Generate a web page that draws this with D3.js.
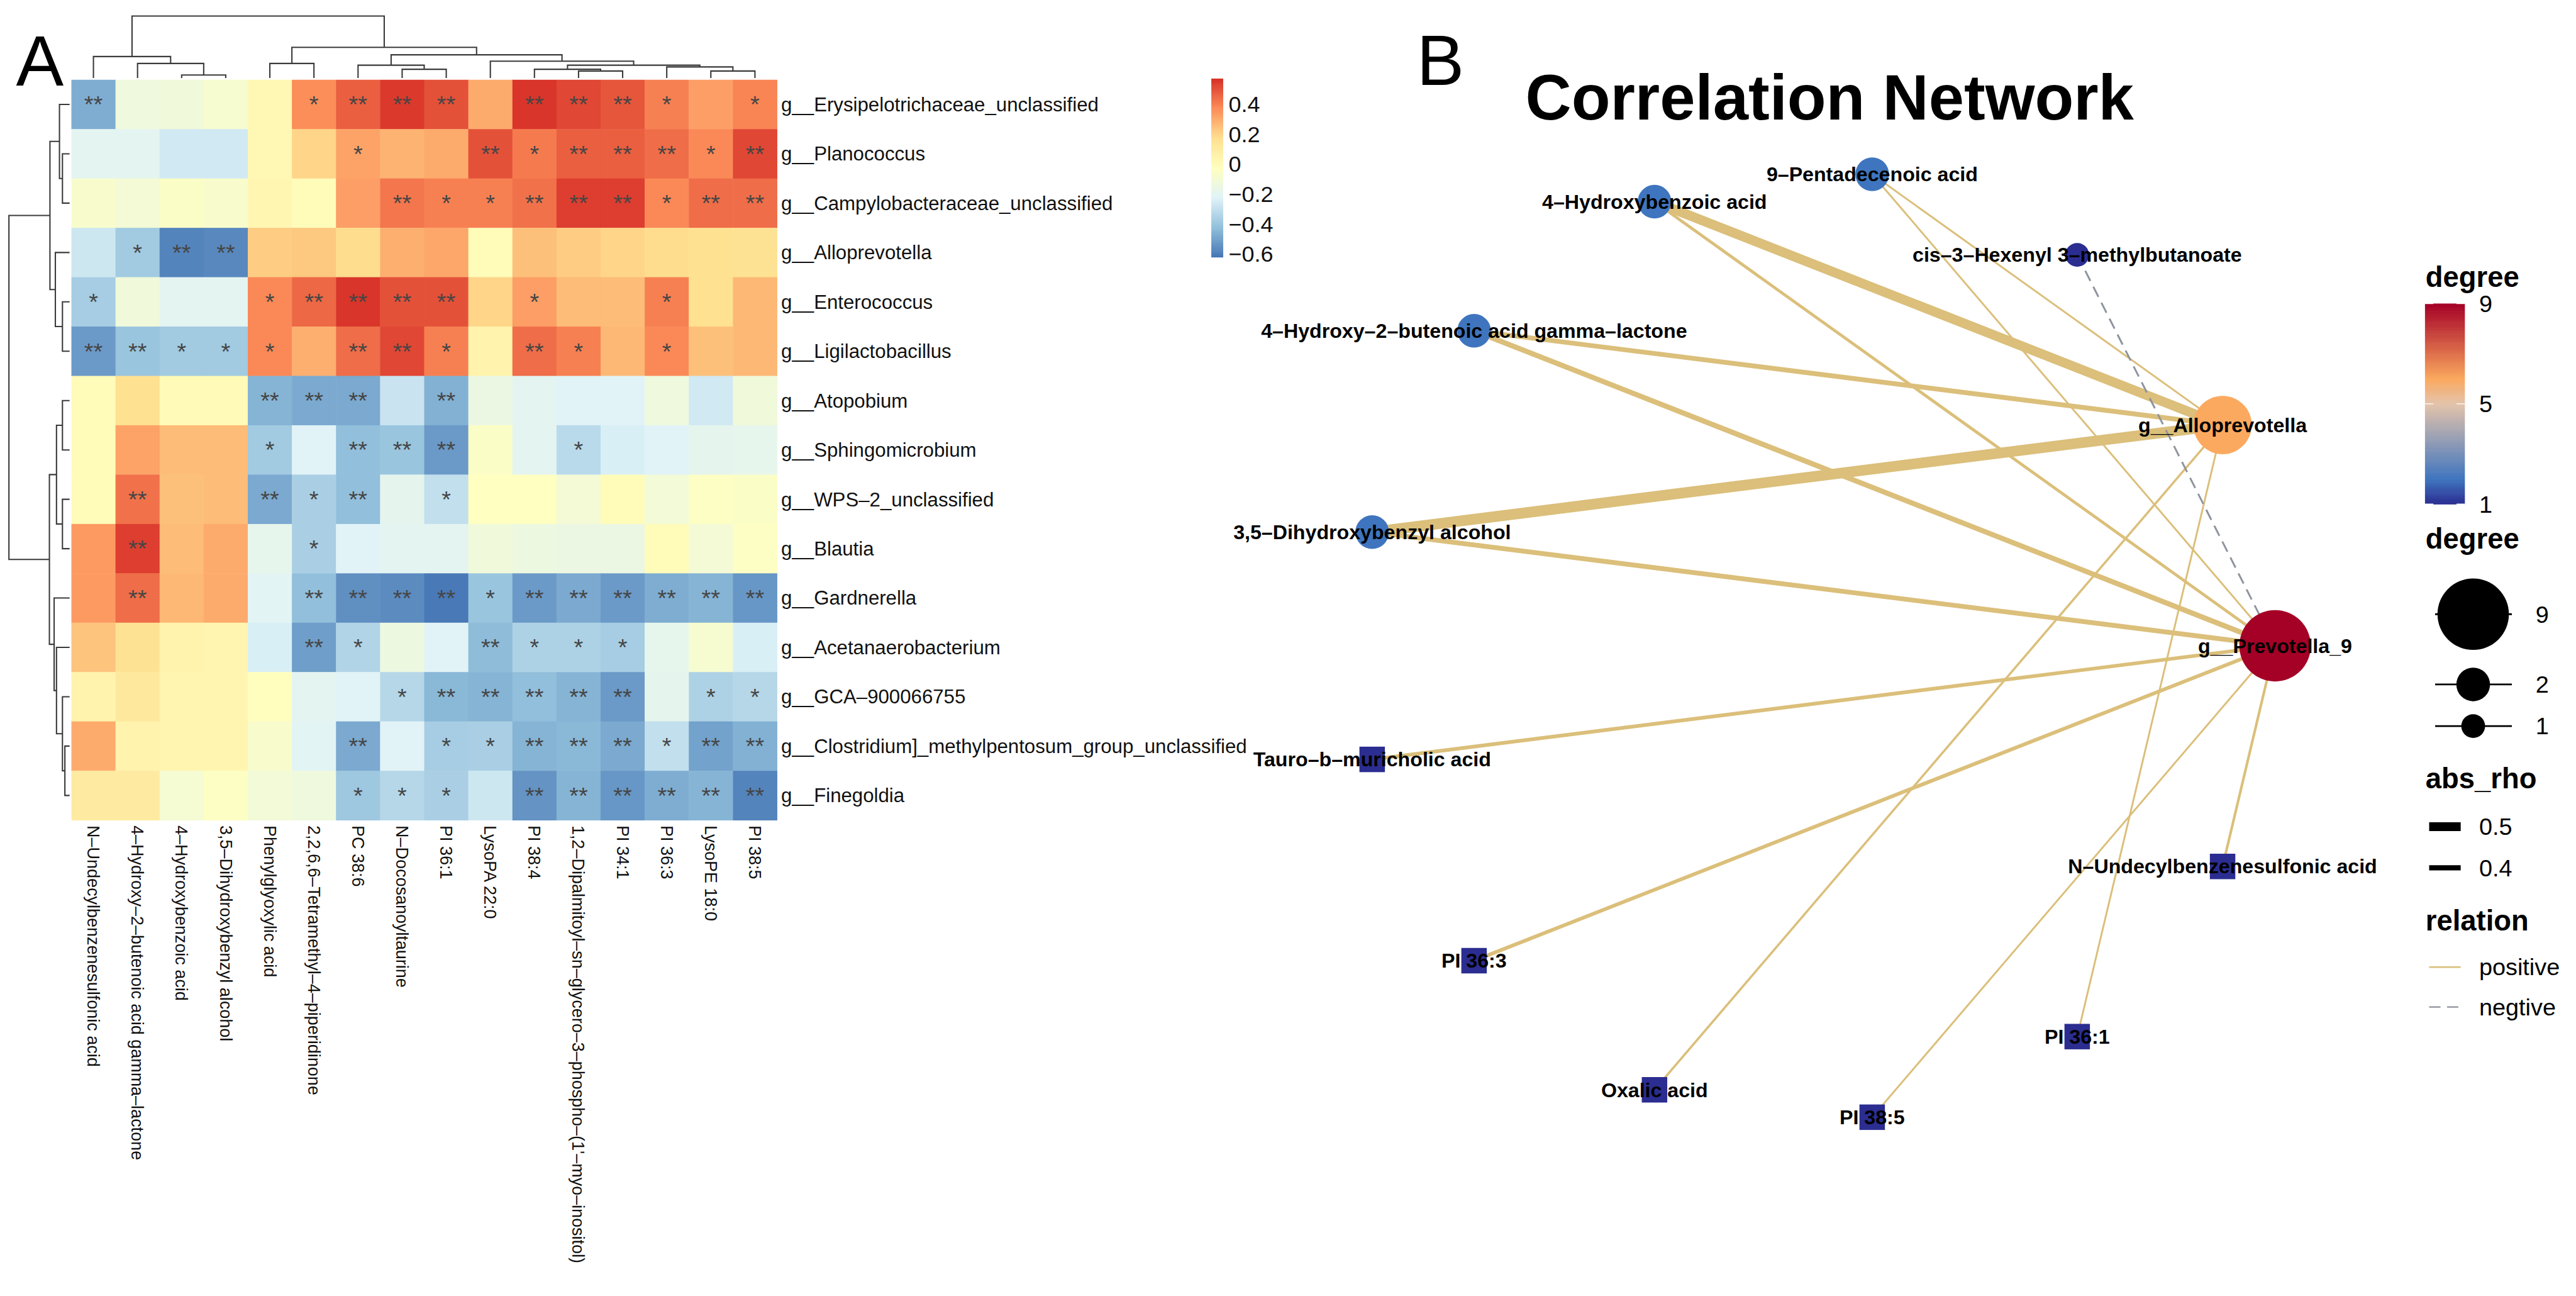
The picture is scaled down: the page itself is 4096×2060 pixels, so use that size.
<!DOCTYPE html>
<html>
<head>
<meta charset="utf-8">
<script src="https://cdn.jsdelivr.net/npm/d3@7"></script>
<style>
  body { margin: 0; background: #fff; }
  svg { display: block; }
  text { font-family: "Liberation Sans", Arial, Helvetica, sans-serif; }
</style>
</head>
<body>
<div id="chart"></div>
<script>
// ---------- panel A: correlation heatmap ----------
const rowNames = [
  "g__Erysipelotrichaceae_unclassified", "g__Planococcus", "g__Campylobacteraceae_unclassified",
  "g__Alloprevotella", "g__Enterococcus", "g__Ligilactobacillus", "g__Atopobium",
  "g__Sphingomicrobium", "g__WPS–2_unclassified", "g__Blautia", "g__Gardnerella",
  "g__Acetanaerobacterium", "g__GCA–900066755", "g__Clostridium]_methylpentosum_group_unclassified",
  "g__Finegoldia"
]
const colNames = [
  "N–Undecylbenzenesulfonic acid", "4–Hydroxy–2–butenoic acid gamma–lactone", "4–Hydroxybenzoic acid",
  "3,5–Dihydroxybenzyl alcohol", "Phenylglyoxylic acid", "2,2,6,6–Tetramethyl–4–piperidinone",
  "PC 38:6", "N–Docosanoyltaurine", "PI 36:1", "LysoPA 22:0", "PI 38:4",
  "1,2–Dipalmitoyl–sn–glycero–3–phospho–(1'–myo–inositol)", "PI 34:1", "PI 36:3", "LysoPE 18:0", "PI 38:5"
]
const rhoValues = [
  [-0.47, -0.13, -0.12, -0.08, 0.02, 0.37, 0.47, 0.55, 0.50, 0.30, 0.56, 0.52, 0.49, 0.40, 0.33, 0.39],
  [-0.20, -0.20, -0.26, -0.26, 0.02, 0.20, 0.32, 0.28, 0.30, 0.50, 0.41, 0.47, 0.47, 0.44, 0.38, 0.52],
  [-0.07, -0.10, -0.05, -0.07, 0.03, 0.00, 0.33, 0.42, 0.40, 0.40, 0.43, 0.54, 0.54, 0.38, 0.44, 0.44],
  [-0.27, -0.38, -0.58, -0.57, 0.22, 0.23, 0.18, 0.29, 0.31, 0.00, 0.25, 0.22, 0.20, 0.18, 0.17, 0.16],
  [-0.37, -0.12, -0.20, -0.20, 0.38, 0.45, 0.56, 0.50, 0.50, 0.20, 0.33, 0.26, 0.26, 0.40, 0.17, 0.27],
  [-0.52, -0.40, -0.38, -0.38, 0.38, 0.29, 0.44, 0.52, 0.40, 0.05, 0.44, 0.40, 0.27, 0.38, 0.25, 0.27],
  [0.00, 0.17, 0.01, 0.01, -0.45, -0.48, -0.48, -0.28, -0.46, -0.15, -0.20, -0.22, -0.22, -0.13, -0.26, -0.12],
  [0.00, 0.32, 0.26, 0.26, -0.38, -0.22, -0.42, -0.40, -0.52, -0.05, -0.20, -0.32, -0.24, -0.22, -0.19, -0.18],
  [0.00, 0.43, 0.25, 0.26, -0.48, -0.36, -0.42, -0.19, -0.30, -0.03, -0.03, -0.10, 0.00, -0.11, -0.04, -0.05],
  [0.34, 0.54, 0.26, 0.30, -0.18, -0.36, -0.22, -0.20, -0.20, -0.12, -0.14, -0.15, -0.15, 0.00, -0.10, -0.04],
  [0.34, 0.44, 0.27, 0.30, -0.21, -0.42, -0.55, -0.56, -0.61, -0.40, -0.52, -0.48, -0.52, -0.47, -0.45, -0.53],
  [0.24, 0.16, 0.05, 0.04, -0.24, -0.51, -0.34, -0.14, -0.22, -0.43, -0.35, -0.35, -0.37, -0.18, -0.08, -0.24],
  [0.05, 0.12, 0.04, 0.04, -0.02, -0.20, -0.22, -0.33, -0.44, -0.45, -0.42, -0.45, -0.52, -0.19, -0.35, -0.33],
  [0.30, 0.05, 0.04, 0.04, -0.07, -0.21, -0.48, -0.22, -0.37, -0.36, -0.45, -0.44, -0.48, -0.30, -0.50, -0.46],
  [0.10, 0.10, -0.09, -0.04, -0.11, -0.13, -0.39, -0.33, -0.36, -0.27, -0.54, -0.45, -0.53, -0.47, -0.45, -0.58]
]
const sigMarks = [
  ["**", "", "", "", "", "*", "**", "**", "**", "", "**", "**", "**", "*", "", "*"],
  ["", "", "", "", "", "", "*", "", "", "**", "*", "**", "**", "**", "*", "**"],
  ["", "", "", "", "", "", "", "**", "*", "*", "**", "**", "**", "*", "**", "**"],
  ["", "*", "**", "**", "", "", "", "", "", "", "", "", "", "", "", ""],
  ["*", "", "", "", "*", "**", "**", "**", "**", "", "*", "", "", "*", "", ""],
  ["**", "**", "*", "*", "*", "", "**", "**", "*", "", "**", "*", "", "*", "", ""],
  ["", "", "", "", "**", "**", "**", "", "**", "", "", "", "", "", "", ""],
  ["", "", "", "", "*", "", "**", "**", "**", "", "", "*", "", "", "", ""],
  ["", "**", "", "", "**", "*", "**", "", "*", "", "", "", "", "", "", ""],
  ["", "**", "", "", "", "*", "", "", "", "", "", "", "", "", "", ""],
  ["", "**", "", "", "", "**", "**", "**", "**", "*", "**", "**", "**", "**", "**", "**"],
  ["", "", "", "", "", "**", "*", "", "", "**", "*", "*", "*", "", "", ""],
  ["", "", "", "", "", "", "", "*", "**", "**", "**", "**", "**", "", "*", "*"],
  ["", "", "", "", "", "", "**", "", "*", "*", "**", "**", "**", "*", "**", "**"],
  ["", "", "", "", "", "", "*", "*", "*", "", "**", "**", "**", "**", "**", "**"]
]
// dendrograms: [mergeHeight, left, right], leaves are indices
const colTree = [1.0,
  [0.346, 0, [0.234, 1, [0.047, 2, 3]]],
  [0.495, [0.234, 4, 5],
    [0.374, [0.206, 6, [0.140, 7, 8]],
      [0.271, 9, [0.206, [0.140, 10, [0.112, 11, 12]], [0.178, 13, [0.112, 14, 15]]]]]]]
const rowTree = [1.0,
  [0.324, [0.167, 0, [0.118, 1, 2]], [0.235, 3, [0.118, 4, 5]]],
  [0.333, [0.216, [0.118, 6, 7], [0.118, 8, 9]],
    [0.255, 10, [0.216, 11, [0.118, 12, [0.078, 13, 14]]]]]]
const rhoRange = [-0.62, 0.57]
const rhoTicks = [0.4, 0.2, 0, -0.2, -0.4, -0.6]
const heatPalette = ["#4575b4", "#91bfdb", "#e0f3f8", "#ffffbf", "#fee090", "#fc8d59", "#d73027"]

// ---------- panel B: correlation network (circle layout order) ----------
const nodeNames = [
  "g__Prevotella_9", "g__Alloprevotella", "cis–3–Hexenyl 3–methylbutanoate", "9–Pentadecenoic acid",
  "4–Hydroxybenzoic acid", "4–Hydroxy–2–butenoic acid gamma–lactone", "3,5–Dihydroxybenzyl alcohol",
  "Tauro–b–muricholic acid", "PI 36:3", "Oxalic acid", "PI 38:5", "PI 36:1", "N–Undecylbenzenesulfonic acid"
]
const nodeShapes = ["circle", "circle", "circle", "circle", "circle", "circle", "circle",
  "square", "square", "square", "square", "square", "square"]
const edgeFrom = [
  "4–Hydroxybenzoic acid", "3,5–Dihydroxybenzyl alcohol", "4–Hydroxy–2–butenoic acid gamma–lactone",
  "9–Pentadecenoic acid", "Oxalic acid", "PI 36:1",
  "4–Hydroxybenzoic acid", "9–Pentadecenoic acid", "4–Hydroxy–2–butenoic acid gamma–lactone",
  "3,5–Dihydroxybenzyl alcohol", "Tauro–b–muricholic acid", "PI 36:3", "PI 38:5",
  "N–Undecylbenzenesulfonic acid", "cis–3–Hexenyl 3–methylbutanoate"
]
const edgeTo = [
  "g__Alloprevotella", "g__Alloprevotella", "g__Alloprevotella", "g__Alloprevotella", "g__Alloprevotella",
  "g__Alloprevotella", "g__Prevotella_9", "g__Prevotella_9", "g__Prevotella_9", "g__Prevotella_9",
  "g__Prevotella_9", "g__Prevotella_9", "g__Prevotella_9", "g__Prevotella_9", "g__Prevotella_9"
]
const edgeRho = [0.52, 0.55, 0.39, 0.31, 0.32, 0.31, 0.34, 0.31, 0.40, 0.39, 0.36, 0.36, 0.31, 0.33, 0.31]
const edgeRelation = ["positive", "positive", "positive", "positive", "positive", "positive", "positive",
  "positive", "positive", "positive", "positive", "positive", "positive", "positive", "negtive"]
const degreeTicks = [9, 5, 1]
const sizeTicks = [9, 2, 1]
const rhoLegendTicks = [0.5, 0.4]
const relationLevels = ["positive", "negtive"]

// ---------- setup ----------
const W = 4096, H = 2060, K = 0.946
const FONT_BOLD = "bold"
const svg = d3.select("#chart").append("svg").attr("width", W).attr("height", H)
const root = svg.append("g").attr("transform", `scale(${K})`)

// ===== Panel A =====
const heat = root.append("g")
const xCell = d3.scaleBand().domain(d3.range(colNames.length)).range([120, 1306])
const yCell = d3.scaleBand().domain(d3.range(rowNames.length)).range([134, 1378])
const heatColor = d3.scaleLinear()
  .domain(heatPalette.map((_, i) => rhoRange[0] + i * (rhoRange[1] - rhoRange[0]) / (heatPalette.length - 1)))
  .range(heatPalette)
  .interpolate(d3.interpolateRgb)

const cells = rhoValues.flatMap((row, i) => row.map((v, j) => ({ i, j, v, s: sigMarks[i][j] })))

heat.selectAll("rect.cell")
  .data(cells)
  .enter().append("rect")
  .attr("class", "cell")
  .attr("x", d => xCell(d.j))
  .attr("y", d => yCell(d.i))
  .attr("width", xCell.bandwidth() + 0.5)
  .attr("height", yCell.bandwidth() + 0.5)
  .attr("fill", d => heatColor(d.v))

heat.selectAll("text.sig")
  .data(cells.filter(d => d.s))
  .enter().append("text")
  .attr("class", "sig")
  .attr("x", d => xCell(d.j) + xCell.bandwidth() / 2)
  .attr("y", d => yCell(d.i) + yCell.bandwidth() / 2)
  .attr("dy", "0.35em")
  .attr("text-anchor", "middle")
  .attr("font-size", 40)
  .attr("fill", "#454545")
  .text(d => d.s)

heat.selectAll("text.rowlab")
  .data(rowNames)
  .enter().append("text")
  .attr("class", "rowlab")
  .attr("x", 1313)
  .attr("y", (d, i) => yCell(i) + yCell.bandwidth() / 2)
  .attr("dy", "0.35em")
  .attr("font-size", 33)
  .attr("fill", "#111")
  .text(d => d)

heat.selectAll("text.collab")
  .data(colNames)
  .enter().append("text")
  .attr("class", "collab")
  .attr("transform", (d, i) => `translate(${xCell(i) + xCell.bandwidth() / 2},1387) rotate(90)`)
  .attr("dy", "0.35em")
  .attr("font-size", 28.5)
  .attr("fill", "#111")
  .text(d => d)

// dendrograms
function treeSegments(tree, leafPos) {
  const segs = []
  const walk = node => {
    if (typeof node === "number") return { p: leafPos(node), h: 0 }
    const a = walk(node[1]), b = walk(node[2])
    segs.push({ p1: a.p, h1: a.h, p2: b.p, h2: b.h, h: node[0] })
    return { p: (a.p + b.p) / 2, h: node[0] }
  }
  walk(tree)
  return segs
}

const colH = d3.scaleLinear().domain([0, 1]).range([131, 27])
heat.append("g").selectAll("path")
  .data(treeSegments(colTree, j => xCell(j) + xCell.bandwidth() / 2))
  .enter().append("path")
  .attr("d", s => `M${s.p1},${colH(s.h1)}V${colH(s.h)}H${s.p2}V${colH(s.h2)}`)
  .attr("fill", "none")
  .attr("stroke", "#3a3a3a")
  .attr("stroke-width", 2.2)

const rowH = d3.scaleLinear().domain([0, 1]).range([117, 15])
heat.append("g").selectAll("path")
  .data(treeSegments(rowTree, i => yCell(i) + yCell.bandwidth() / 2))
  .enter().append("path")
  .attr("d", s => `M${rowH(s.h1)},${s.p1}H${rowH(s.h)}V${s.p2}H${rowH(s.h2)}`)
  .attr("fill", "none")
  .attr("stroke", "#3a3a3a")
  .attr("stroke-width", 2.2)

// colour key
const keyY = d3.scaleLinear().domain(rhoRange).range([432, 132])
const keySteps = d3.range(100).map(k => rhoRange[0] + (k + 0.5) * (rhoRange[1] - rhoRange[0]) / 100)
const keyStep = (rhoRange[1] - rhoRange[0]) / 100
heat.append("g").selectAll("rect")
  .data(keySteps)
  .enter().append("rect")
  .attr("x", 2036)
  .attr("y", v => keyY(v + keyStep / 2))
  .attr("width", 20)
  .attr("height", Math.abs(keyY(0) - keyY(keyStep)) + 0.6)
  .attr("fill", v => heatColor(v))

heat.append("g").selectAll("text")
  .data(rhoTicks)
  .enter().append("text")
  .attr("x", 2065)
  .attr("y", v => keyY(v))
  .attr("dy", "0.35em")
  .attr("font-size", 38)
  .attr("fill", "#111")
  .text(v => (v < 0 ? "−" : "") + d3.format("")(Math.abs(v)))

root.append("text").attr("x", 27).attr("y", 144)
  .attr("font-size", 120).attr("font-weight", 300).text("A")

// ===== Panel B =====
const net = root.append("g")
net.append("text").attr("x", 2381).attr("y", 143)
  .attr("font-size", 120).attr("font-weight", 300).text("B")
net.append("text").attr("x", 2564).attr("y", 201)
  .attr("font-size", 107).attr("font-weight", FONT_BOLD).text("Correlation Network")

const xNet = d3.scaleLinear().domain([-1, 1]).range([2284, 3824])
const yNet = d3.scaleLinear().domain([-1, 1]).range([1883, 287])
const nodes = nodeNames.map((name, i) => {
  const a = 2 * Math.PI * i / nodeNames.length
  return { name, shape: nodeShapes[i], lx: Math.cos(a), ly: Math.sin(a) }
})
const byName = new Map(nodes.map(n => [n.name, n]))
const edges = edgeFrom.map((f, i) => ({
  source: byName.get(f), target: byName.get(edgeTo[i]), rho: edgeRho[i], relation: edgeRelation[i]
}))
nodes.forEach(n => {
  n.degree = edges.filter(e => e.source === n || e.target === n).length
})

const edgeWidth = d3.scaleLinear().domain([0.3, 0.55]).range([2.5, 18])
const nodeRadius = d3.scaleSqrt().domain([0, 9]).range([0, 60])
const degreeColor = d3.scaleLinear()
  .domain([1, 2, 5, 6, 9])
  .range(["#2b2d90", "#3f75bf", "#e3c3ab", "#fba95f", "#a50026"])
  .interpolate(d3.interpolateRgb)
const posColor = "#dbbf7a", negColor = "#8e939d"

net.append("g").selectAll("line")
  .data(edges)
  .enter().append("line")
  .attr("x1", e => xNet(e.source.lx)).attr("y1", e => yNet(e.source.ly))
  .attr("x2", e => xNet(e.target.lx)).attr("y2", e => yNet(e.target.ly))
  .attr("stroke", e => e.relation === "positive" ? posColor : negColor)
  .attr("stroke-width", e => edgeWidth(e.rho))
  .attr("stroke-dasharray", e => e.relation === "positive" ? null : "19,11")

const nodeG = net.append("g")
nodeG.selectAll("circle")
  .data(nodes.filter(n => n.shape === "circle"))
  .enter().append("circle")
  .attr("cx", n => xNet(n.lx)).attr("cy", n => yNet(n.ly))
  .attr("r", n => nodeRadius(n.degree))
  .attr("fill", n => degreeColor(n.degree))
nodeG.selectAll("rect")
  .data(nodes.filter(n => n.shape === "square"))
  .enter().append("rect")
  .attr("x", n => xNet(n.lx) - nodeRadius(n.degree) * 1.07)
  .attr("y", n => yNet(n.ly) - nodeRadius(n.degree) * 1.07)
  .attr("width", n => nodeRadius(n.degree) * 2.14)
  .attr("height", n => nodeRadius(n.degree) * 2.14)
  .attr("fill", n => degreeColor(n.degree))

net.append("g").selectAll("text")
  .data(nodes)
  .enter().append("text")
  .attr("x", n => xNet(n.lx)).attr("y", n => yNet(n.ly))
  .attr("dy", "0.35em")
  .attr("text-anchor", "middle")
  .attr("font-size", 34)
  .attr("font-weight", FONT_BOLD)
  .attr("fill", "#000")
  .text(n => n.name)

// ----- legends -----
const leg = net.append("g")
const legTitle = (y, t) => leg.append("text").attr("x", 4077).attr("y", y)
  .attr("font-size", 48).attr("font-weight", FONT_BOLD).text(t)
const legLabel = (x, y, t) => leg.append("text").attr("x", x).attr("y", y).attr("dy", "0.35em")
  .attr("font-size", 40).text(t)

// degree colour bar
legTitle(482, "degree")
const degY = d3.scaleLinear().domain([1, 9]).range([847, 510])
const degSteps = d3.range(100).map(k => 1 + (k + 0.5) * 8 / 100)
leg.append("g").selectAll("rect")
  .data(degSteps)
  .enter().append("rect")
  .attr("x", 4076).attr("width", 67)
  .attr("y", v => degY(v + 0.04))
  .attr("height", Math.abs(degY(0) - degY(0.08)) + 0.6)
  .attr("fill", v => degreeColor(v))
leg.append("g").selectAll("path")
  .data(degreeTicks)
  .enter().append("path")
  .attr("d", v => `M4076,${degY(v)}h14M4129,${degY(v)}h14`)
  .attr("stroke", "#fff").attr("stroke-width", 1.5)
degreeTicks.forEach(v => legLabel(4167, degY(v), v))

// degree size keys
legTitle(922, "degree")
const sizeKeyY = { 9: 1032, 2: 1150, 1: 1220 }
sizeTicks.forEach(v => {
  const y = sizeKeyY[v]
  leg.append("line").attr("x1", 4093).attr("x2", 4222).attr("y1", y).attr("y2", y)
    .attr("stroke", "#000").attr("stroke-width", 3)
  leg.append("circle").attr("cx", 4157).attr("cy", y).attr("r", nodeRadius(v)).attr("fill", "#000")
  legLabel(4262, y, v)
})

// abs_rho width keys
legTitle(1325, "abs_rho")
const rhoKeyY = d3.scalePoint().domain(rhoLegendTicks).range([1389, 1458])
rhoLegendTicks.forEach(v => {
  leg.append("line").attr("x1", 4083).attr("x2", 4136).attr("y1", rhoKeyY(v)).attr("y2", rhoKeyY(v))
    .attr("stroke", "#000").attr("stroke-width", edgeWidth(v))
  legLabel(4167, rhoKeyY(v), d3.format(".1f")(v))
})

// relation keys
legTitle(1563, "relation")
const relY = d3.scalePoint().domain(relationLevels).range([1625, 1692])
relationLevels.forEach(r => {
  leg.append("line").attr("x1", 4083).attr("x2", 4136).attr("y1", relY(r)).attr("y2", relY(r))
    .attr("stroke", r === "positive" ? posColor : negColor).attr("stroke-width", 2.5)
    .attr("stroke-dasharray", r === "positive" ? null : "19,11")
  legLabel(4167, relY(r), r)
})
</script>
</body>
</html>
